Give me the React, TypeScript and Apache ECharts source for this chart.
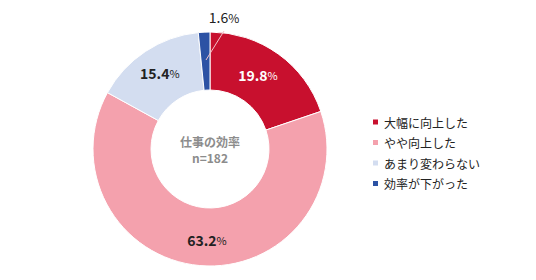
import React, { useEffect, useRef } from "react";
import * as echarts from "echarts";

const categories = ["大幅に向上した", "やや向上した", "あまり変わらない", "効率が下がった"];
const values = [19.8, 63.2, 15.4, 1.6];
const colors = ["#C8102E", "#F4A1AD", "#D3DDF0", "#2C52A4"];
const labelColors = ["#ffffff", "#222222", "#222222", "#222222"];
const centerLines = ["仕事の効率", "n=182"];

const FONT = "'Noto Sans CJK JP', 'Noto Sans', sans-serif";

export default function App() {
  const ref = useRef<HTMLDivElement>(null);
  useEffect(() => {
    document.body.style.margin = "0";
    const chart = echarts.init(ref.current!, null, { renderer: "svg" });
    const data = categories.map((name, i) => ({
      name,
      value: values[i],
      itemStyle: { color: colors[i] },
      label: {
        position: i === 3 ? "outside" : "inside",
        color: labelColors[i],
        rich: {
          v: {
            fontSize: 14,
            fontWeight: i === 3 ? "normal" : "bold",
            color: labelColors[i],
            fontFamily: FONT,
          },
          p: { fontSize: i === 3 ? 12 : 11, color: labelColors[i], fontFamily: FONT },
        },
      },
      labelLine: { show: false },
    }));
    const dxs = [-5, 5, 0, 0];
    chart.setOption({
      animation: false,
      legend: {
        orient: "vertical",
        left: 371,
        top: 115,
        padding: 0,
        icon: "rect",
        itemWidth: 7,
        itemHeight: 7,
        itemGap: 6.5,
        textStyle: { fontSize: 12, color: "#222", fontFamily: FONT, lineHeight: 14, padding: [0, 0, 0, 0] },
        data: categories,
      },
      graphic: [
        {
          type: "text",
          x: 210,
          y: 141,
          style: {
            text: centerLines[0],
            align: "center",
            verticalAlign: "middle",
            fontSize: 12,
            fontWeight: "bold",
            fill: "#8c8c8c",
            fontFamily: FONT,
          },
        },
        {
          type: "text",
          x: 210,
          y: 157,
          style: {
            text: centerLines[1],
            align: "center",
            verticalAlign: "middle",
            fontSize: 12,
            fontWeight: "bold",
            fill: "#8c8c8c",
            fontFamily: FONT,
          },
        },
        {
          type: "line",
          z: 10,
          shape: { x1: 206, y1: 60, x2: 224, y2: 31 },
          style: { stroke: "#f3c3ca", lineWidth: 1 },
        },
      ],
      series: [
        {
          type: "pie",
          center: [210, 149],
          radius: [59, 117],
          startAngle: 90,
          clockwise: true,
          itemStyle: { borderColor: "#fff", borderWidth: 1 },
          label: {
            show: true,
            formatter: "{v|{c}}{p|%}",
            fontFamily: FONT,
          },
          labelLayout: (params: any) =>
            params.dataIndex === 3
              ? { x: 224, y: 17, align: "center", verticalAlign: "middle" }
              : { dx: dxs[params.dataIndex] },
          emphasis: { disabled: true },
          data,
        },
      ],
    });
    return () => chart.dispose();
  }, []);
  return <div ref={ref} style={{ width: 536, height: 280 }} />;
}
